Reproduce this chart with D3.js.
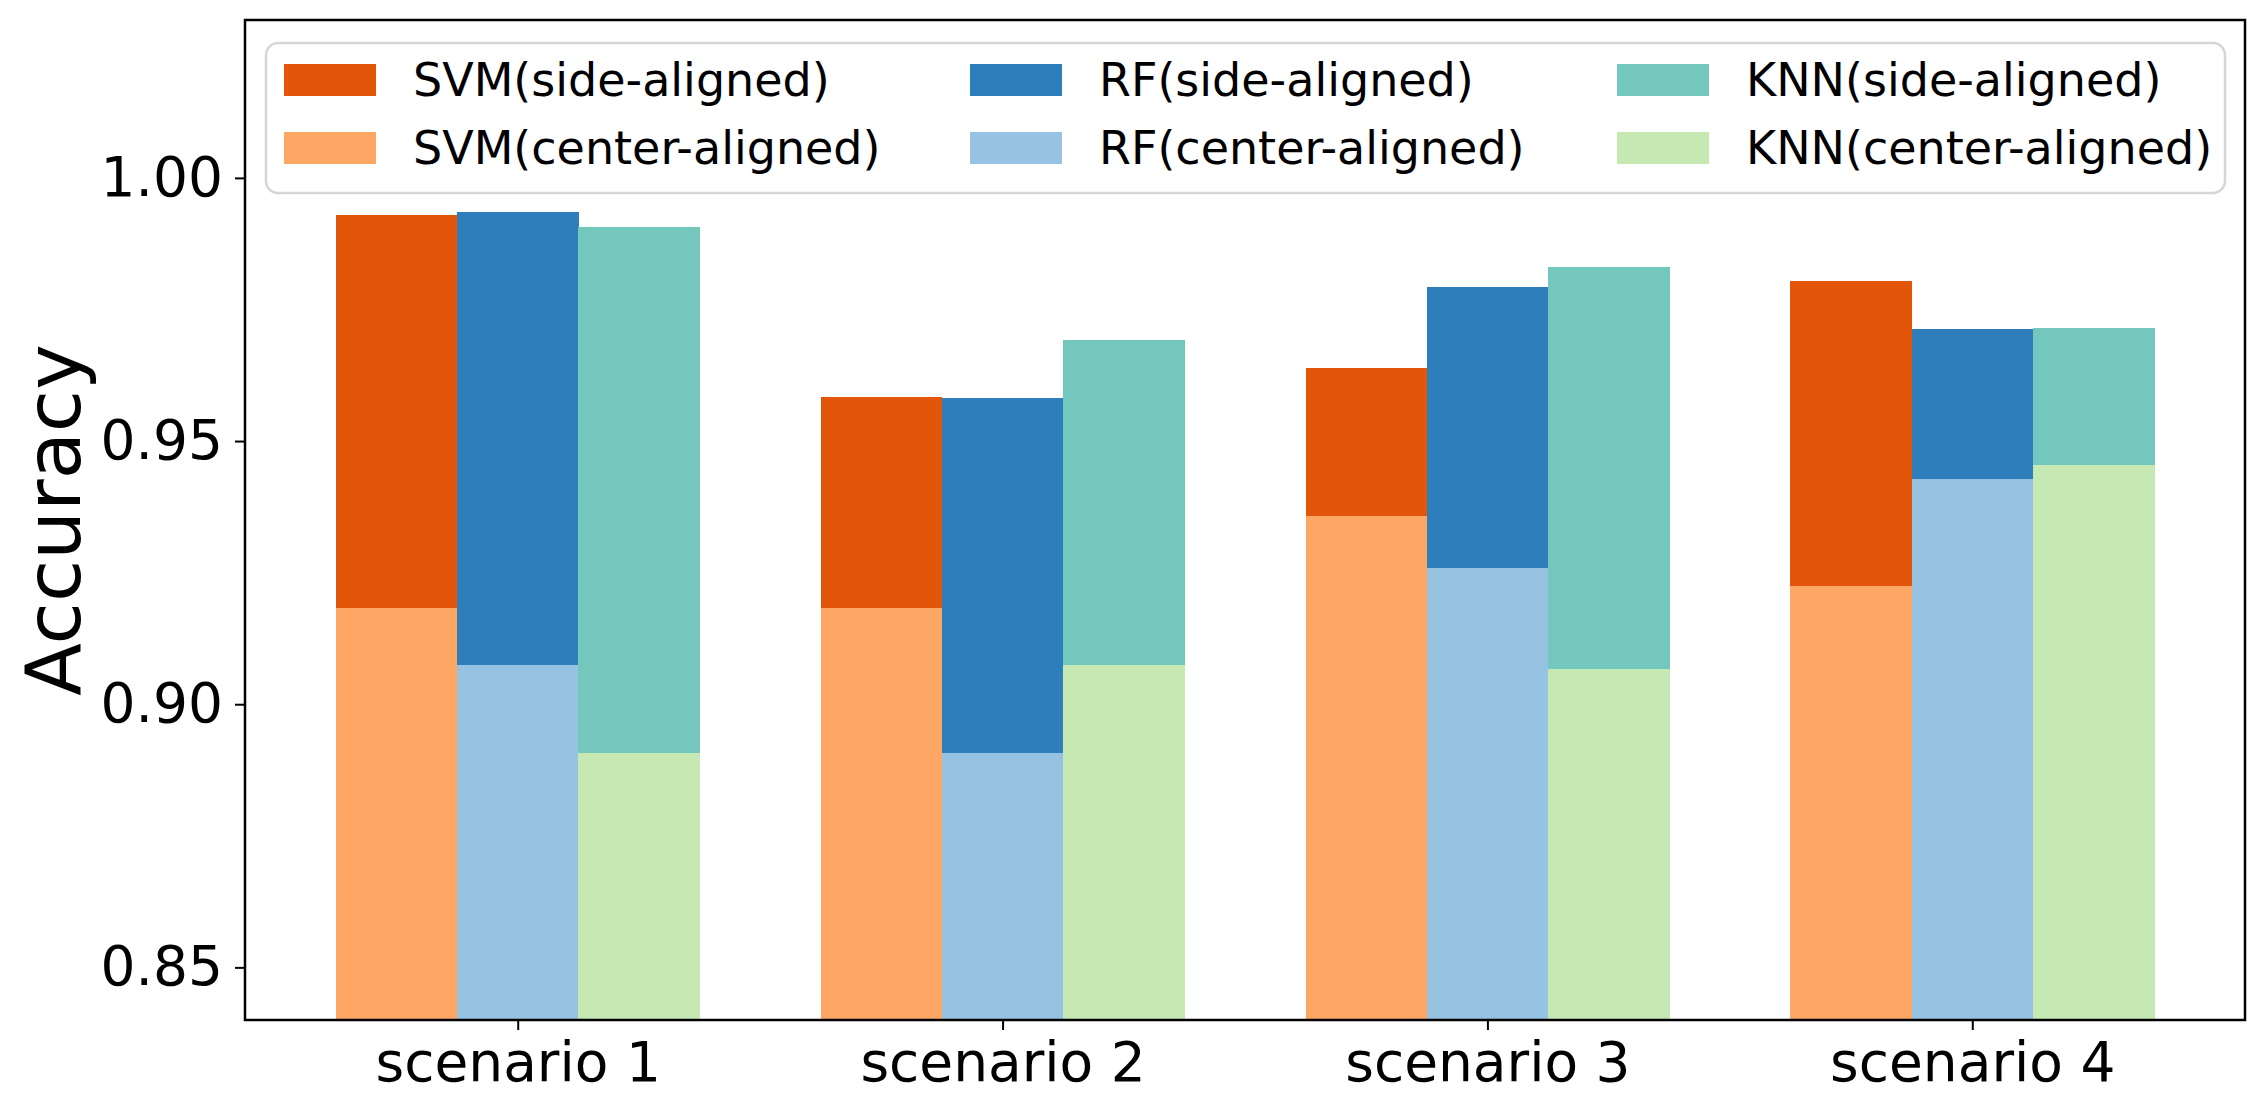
<!DOCTYPE html>
<html>
<head>
<meta charset="utf-8">
<script src="https://cdn.jsdelivr.net/npm/d3@7"></script>
<style>
  html, body { margin: 0; padding: 0; background: #ffffff; }
  svg { display: block; font-family: "DejaVu Sans", sans-serif; }
</style>
</head>
<body>
<svg id="chart" width="2265" height="1113"></svg>
<script>
// ---------- data ----------
const categories = ["scenario 1", "scenario 2", "scenario 3", "scenario 4"];
const models = ["SVM", "RF", "KNN"];
const svmSide   = [0.9930, 0.9583, 0.9639, 0.9804];
const svmCenter = [0.9183, 0.9183, 0.9358, 0.9224];
const rfSide    = [0.9936, 0.9582, 0.9793, 0.9712];
const rfCenter  = [0.9075, 0.8907, 0.9259, 0.9428];
const knnSide   = [0.9907, 0.9692, 0.9831, 0.9715];
const knnCenter = [0.8907, 0.9075, 0.9067, 0.9455];
const yTicks = [0.85, 0.90, 0.95, 1.00];
const legendLabels = [
  ["SVM(side-aligned)", "SVM(center-aligned)"],
  ["RF(side-aligned)", "RF(center-aligned)"],
  ["KNN(side-aligned)", "KNN(center-aligned)"]
];

const sideValues = [svmSide, rfSide, knnSide];
const centerValues = [svmCenter, rfCenter, knnCenter];
const sideColors = ["#e35509", "#2f7ebc", "#73c7bc"];
const centerColors = ["#fea764", "#95c3e1", "#c6e9b3"];

// ---------- layout ----------
const svg = d3.select("#chart");
const L = 245, R = 2245, T = 20, B = 1020;
const barW = 0.25;

const x = d3.scaleLinear().domain([-0.5625, 3.5625]).range([L, R]);
const y = d3.scaleLinear().domain([0.84, 1.03]).range([B, T]);

svg.append("defs").append("clipPath").attr("id", "plotclip")
  .append("rect").attr("x", L).attr("y", T).attr("width", R - L).attr("height", B - T);

const plot = svg.append("g").attr("clip-path", "url(#plotclip)")
  .attr("shape-rendering", "crispEdges");

models.forEach((m, k) => {
  const off = (k - 1) * barW;
  // side-aligned (full height behind)
  plot.selectAll(null).data(sideValues[k]).enter().append("rect")
    .attr("x", (d, i) => x(i + off - barW / 2))
    .attr("width", x(barW) - x(0) + 0.5)
    .attr("y", d => y(d))
    .attr("height", d => y(0.84) - y(d))
    .attr("fill", sideColors[k]);
  // center-aligned in front
  plot.selectAll(null).data(centerValues[k]).enter().append("rect")
    .attr("x", (d, i) => x(i + off - barW / 2))
    .attr("width", x(barW) - x(0) + 0.5)
    .attr("y", d => y(d))
    .attr("height", d => y(0.84) - y(d))
    .attr("fill", centerColors[k]);
});

// ---------- axes ----------
const yAxis = d3.axisLeft(y).tickValues(yTicks).tickFormat(d3.format(".2f"))
  .tickSizeInner(10).tickSizeOuter(0).tickPadding(12);
const gy = svg.append("g").attr("transform", `translate(${L},0)`).call(yAxis);
gy.select(".domain").remove();
gy.selectAll(".tick line").attr("stroke", "#000").attr("stroke-width", 2);
gy.selectAll(".tick text").attr("font-size", 55).attr("fill", "#000")
  .attr("font-family", "DejaVu Sans");

const xAxis = d3.axisBottom(x).tickValues(d3.range(categories.length))
  .tickFormat(i => categories[i]).tickSizeInner(10).tickSizeOuter(0).tickPadding(12);
const gx = svg.append("g").attr("transform", `translate(0,${B})`).call(xAxis);
gx.select(".domain").remove();
gx.selectAll(".tick line").attr("stroke", "#000").attr("stroke-width", 2);
gx.selectAll(".tick text").attr("font-size", 55).attr("fill", "#000")
  .attr("font-family", "DejaVu Sans");

// frame
svg.append("rect").attr("x", L).attr("y", T).attr("width", R - L).attr("height", B - T)
  .attr("fill", "none").attr("stroke", "#000").attr("stroke-width", 2.5);

// y label
svg.append("text")
  .attr("transform", `translate(80,${(T + B) / 2}) rotate(-90)`)
  .attr("text-anchor", "middle")
  .attr("font-size", 77)
  .attr("fill", "#000")
  .text("Accuracy");

// ---------- legend ----------
const lg = svg.append("g");
lg.append("rect").attr("x", 266).attr("y", 43).attr("width", 2225 - 266).attr("height", 193 - 43)
  .attr("rx", 12).attr("ry", 12)
  .attr("fill", "rgba(255,255,255,0.8)").attr("stroke", "#d6d6d6").attr("stroke-width", 2.5);

const colX = [284, 970, 1617];
const rowY = [64, 132];
legendLabels.forEach((pair, k) => {
  pair.forEach((lab, r) => {
    lg.append("rect").attr("x", colX[k]).attr("y", rowY[r]).attr("width", 92).attr("height", 32)
      .attr("fill", r === 0 ? sideColors[k] : centerColors[k]);
    lg.append("text").attr("x", colX[k] + 129).attr("y", rowY[r] + 32)
      .attr("font-size", 46).attr("fill", "#000").text(lab);
  });
});
</script>
</body>
</html>
